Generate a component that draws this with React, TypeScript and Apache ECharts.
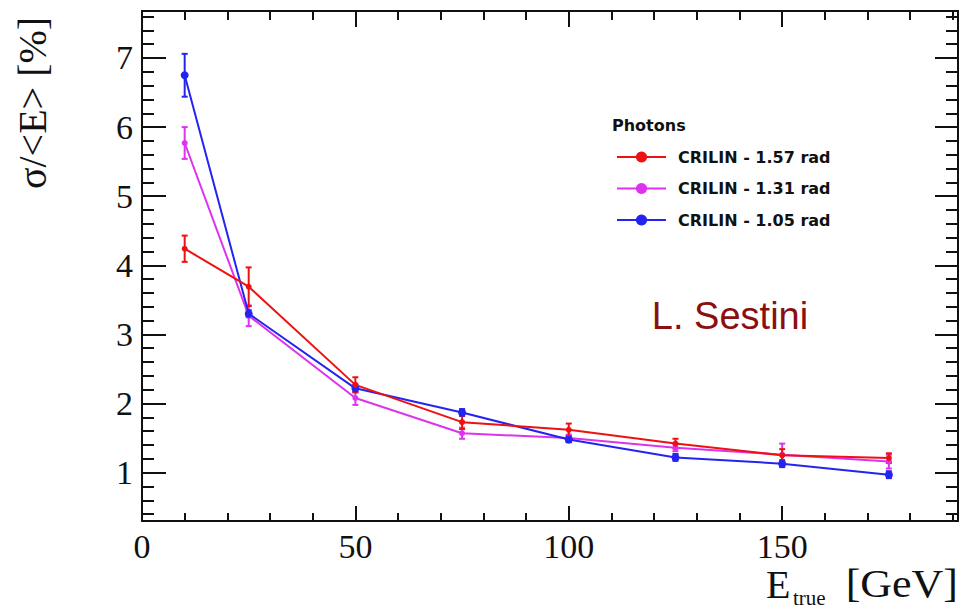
import React, { useEffect, useRef } from "react";
import * as echarts from "echarts";

const energies = [10, 25, 50, 75, 100, 125, 150, 175];
const seriesNames = ["CRILIN - 1.57 rad", "CRILIN - 1.31 rad", "CRILIN - 1.05 rad"];
const res157 = [4.24, 3.69, 2.27, 1.73, 1.62, 1.42, 1.25, 1.21];
const err157 = [0.19, 0.28, 0.11, 0.1, 0.09, 0.07, 0.09, 0.07];
const res131 = [5.77, 3.27, 2.08, 1.57, 1.5, 1.36, 1.26, 1.16];
const err131 = [0.23, 0.15, 0.1, 0.08, 0.05, 0.05, 0.16, 0.1];
const res105 = [6.75, 3.3, 2.22, 1.87, 1.48, 1.22, 1.13, 0.97];
const err105 = [0.31, 0.05, 0.05, 0.05, 0.04, 0.05, 0.05, 0.05];
const colors = ["#ee1111", "#dd33ee", "#2424f0"];

const serif = "'Liberation Serif', 'Times New Roman', serif";
const sans = "'DejaVu Sans', sans-serif";

function errSeries(name: string, vals: number[], errs: number[], color: string) {
  return {
    type: "custom",
    name,
    coordinateSystem: "cartesian2d",
    encode: { x: 0, y: 1 },
    data: energies.map((e, i) => [e, vals[i], errs[i]]),
    z: 3,
    renderItem: (params: any, api: any) => {
      const x = api.value(0);
      const y = api.value(1);
      const e = api.value(2);
      const top = api.coord([x, y + e]);
      const bot = api.coord([x, y - e]);
      const st = { stroke: color, lineWidth: 2 };
      return {
        type: "group",
        children: [
          { type: "line", shape: { x1: top[0], y1: top[1], x2: bot[0], y2: bot[1] }, style: st },
          { type: "line", shape: { x1: top[0] - 3, y1: top[1], x2: top[0] + 3, y2: top[1] }, style: st },
          { type: "line", shape: { x1: bot[0] - 3, y1: bot[1], x2: bot[0] + 3, y2: bot[1] }, style: st },
        ],
      };
    },
  };
}

function lineSeries(name: string, vals: number[], color: string, size: number) {
  return {
    type: "line",
    name,
    data: energies.map((e, i) => [e, vals[i]]),
    color,
    symbol: "circle",
    symbolSize: size,
    showSymbol: true,
    lineStyle: { width: 2, color },
    itemStyle: { color },
    z: 4,
  };
}

const axisCommon = {
  axisLine: { show: true, onZero: false, lineStyle: { color: "#111", width: 2 } },
  splitLine: { show: false },
};

export default function App() {
  const ref = useRef<HTMLDivElement>(null);
  useEffect(() => {
    if (!ref.current) return;
    const chart = echarts.init(ref.current, null, { renderer: "svg" });
    chart.setOption({
      animation: false,
      backgroundColor: "#ffffff",
      grid: { left: 142, top: 11, right: 4, bottom: 88 },
      xAxis: [
        {
          type: "value",
          position: "bottom",
          min: 0,
          max: 191.2,
          splitNumber: 4,
          ...axisCommon,
          axisTick: { show: true, inside: true, length: 15, lineStyle: { color: "#111", width: 2 } },
          minorTick: { show: true, splitNumber: 5, length: 8, lineStyle: { color: "#111", width: 2 } },
          axisLabel: { show: true, showMaxLabel: false, margin: 11, lineHeight: 28, fontFamily: serif, fontSize: 34, color: "#111" },
        },
        {
          type: "value",
          position: "top",
          min: 0,
          max: 191.2,
          splitNumber: 4,
          ...axisCommon,
          axisTick: { show: true, inside: true, length: 16, lineStyle: { color: "#111", width: 2 } },
          minorTick: { show: true, splitNumber: 5, length: 9, lineStyle: { color: "#111", width: 2 } },
          axisLabel: { show: false },
        },
      ],
      yAxis: [
        {
          type: "value",
          position: "left",
          min: 0.3,
          max: 7.68,
          splitNumber: 7,
          ...axisCommon,
          axisTick: { show: true, inside: true, length: 24, lineStyle: { color: "#111", width: 2 } },
          minorTick: { show: true, splitNumber: 5, length: 12, lineStyle: { color: "#111", width: 2 } },
          axisLabel: { show: true, showMinLabel: false, showMaxLabel: false, margin: 9, fontFamily: serif, fontSize: 34, color: "#111" },
        },
        {
          type: "value",
          position: "right",
          min: 0.3,
          max: 7.68,
          splitNumber: 7,
          ...axisCommon,
          axisTick: { show: true, inside: true, length: 23, lineStyle: { color: "#111", width: 2 } },
          minorTick: { show: true, splitNumber: 5, length: 12, lineStyle: { color: "#111", width: 2 } },
          axisLabel: { show: false },
        },
      ],
      legend: {
        data: seriesNames,
        orient: "vertical",
        left: 611,
        top: 144,
        itemWidth: 49,
        itemHeight: 14,
        itemGap: 15.5,
        textStyle: { fontFamily: sans, fontWeight: "bold", fontSize: 16, lineHeight: 16, color: "#111", padding: [0, 0, 0, 7] },
      },
      graphic: [
        {
          type: "text",
          left: 612,
          top: 117,
          style: { text: "Photons", fontFamily: sans, fontWeight: "bold", fontSize: 16, fill: "#111" },
        },
        {
          type: "text",
          x: 730,
          y: 316,
          style: { text: "L. Sestini", fontFamily: "'Liberation Sans', Arial, sans-serif", fontSize: 38, fill: "#8b0f0f", textAlign: "center", textVerticalAlign: "middle" },
        },
        {
          type: "text",
          x: 32,
          y: 103,
          rotation: Math.PI / 2,
          style: { text: "σ/<E> [%]", fontFamily: serif, fontSize: 40, fill: "#111", textAlign: "center", textVerticalAlign: "middle" },
        },
        {
          type: "text",
          x: 766,
          y: 584,
          style: { text: "E", fontFamily: serif, fontSize: 40, lineHeight: 34, fill: "#111", textAlign: "left", textVerticalAlign: "middle" },
        },
        {
          type: "text",
          x: 793,
          y: 598,
          style: { text: "true", fontFamily: serif, fontSize: 21, lineHeight: 18, fill: "#111", textAlign: "left", textVerticalAlign: "middle" },
        },
        {
          type: "text",
          x: 958,
          y: 584,
          scaleX: 1.1,
          style: { text: "[GeV]", fontFamily: serif, fontSize: 40, lineHeight: 34, fill: "#111", textAlign: "right", textVerticalAlign: "middle" },
        },
      ],
      series: [
        errSeries("err131", res131, err131, colors[1]),
        errSeries("err105", res105, err105, colors[2]),
        errSeries("err157", res157, err157, colors[0]),
        lineSeries(seriesNames[1], res131, colors[1], 6),
        lineSeries(seriesNames[2], res105, colors[2], 8),
        lineSeries(seriesNames[0], res157, colors[0], 6),
      ],
    });
    return () => chart.dispose();
  }, []);
  return <div ref={ref} style={{ position: "fixed", left: 0, top: 0, width: 962, height: 609 }} />;
}
